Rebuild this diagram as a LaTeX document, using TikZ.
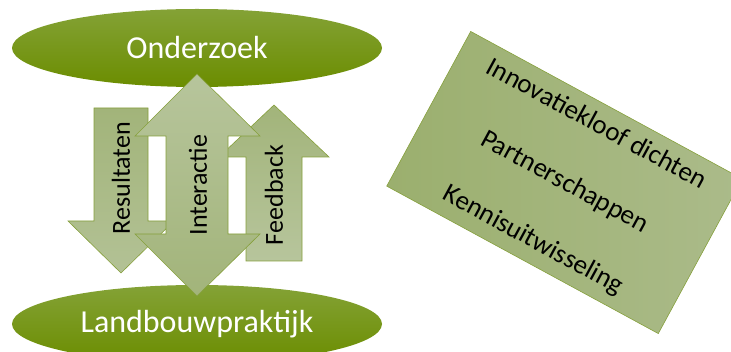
\documentclass[tikz,border=0pt]{standalone}
\usepackage{fontspec}
\setmainfont{Carlito}
\usetikzlibrary{shapes.geometric}

\definecolor{ovaallicht}{HTML}{84A236}
\definecolor{ovaaldonker}{HTML}{6B8D00}
\definecolor{pijllicht}{HTML}{B7C59C}
\definecolor{pijldonker}{HTML}{A2B47A}
\definecolor{pijlrand}{HTML}{86A03C}
\definecolor{kaderlinks}{HTML}{9BAF6E}
\definecolor{kaderrechts}{HTML}{ABBB8A}

\begin{document}
\begin{tikzpicture}
  [x=1pt, y=-1pt,
   ovaal/.style={ellipse, inner sep=0pt, minimum width=370pt, minimum height=78pt,
     top color=ovaallicht, bottom color=ovaaldonker, text=white,
     font=\fontsize{32}{36}\selectfont},
   pijl/.style={draw=pijlrand, line width=0.6pt},
   pijltekst/.style={rotate=90, font=\fontsize{26}{30}\selectfont},
   kader/.style={rotate=-28.5, minimum width=309pt, minimum height=176pt, inner sep=0pt,
     draw=pijlrand, line width=0.6pt, left color=kaderlinks, right color=kaderrechts,
     align=center, font=\fontsize{27}{66}\selectfont}]
  \useasboundingbox (0,0) rectangle (731,352);
  \clip (0,0) rectangle (731,352);

  \node[ovaal] (onderzoek) at (197,48) {Onderzoek};
  \node[ovaal] (praktijk) at (197,324) {Landbouwpraktijk};

  % Resultaten
  \draw[pijl, top color=pijldonker, bottom color=pijllicht!80!pijldonker]
    (94,108) -- (148,108) -- (148,221) -- (174,221) -- (121,273) -- (68,221) -- (94,221) -- cycle;
  % Feedback
  \draw[pijl, top color=pijldonker, bottom color=pijllicht]
    (246,261) -- (302,261) -- (302,157) -- (329,157) -- (274,105) -- (219,157) -- (246,157) -- cycle;
  % Interactie
  \draw[pijl, top color=pijllicht, bottom color=pijldonker]
    (166,136) -- (135,136) -- (197,74) -- (260,136) -- (228,136) -- (228,234)
    -- (260,234) -- (197,296) -- (135,234) -- (166,234) -- cycle;

  \node[pijltekst] (resultaten) at (121,178) {Resultaten};
  \node[pijltekst] (interactie) at (198,185) {Interactie};
  \node[pijltekst] (feedback) at (274,195) {Feedback};

  \node[kader] (kloof) at (564.5,182.5)
    {Innovatiekloof dichten\\Partnerschappen\\Kennisuitwisseling};
\end{tikzpicture}
\end{document}
